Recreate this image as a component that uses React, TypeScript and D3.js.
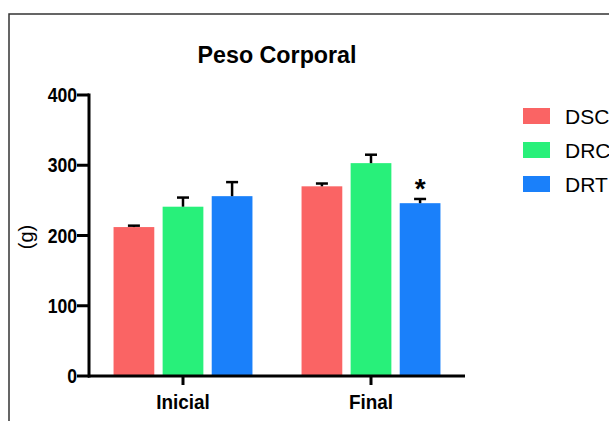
import React from "react";
import * as d3 from "d3";

const groups = ["Inicial", "Final"];
const series = ["DSC", "DRC", "DRT"];
const colors = ["#fa6464", "#28f07a", "#1a80fa"];
const meanInicial = [212, 241, 256];
const errInicial = [2, 13, 20];
const meanFinal = [270, 303, 246];
const errFinal = [4, 12, 6];
const yTicks = [0, 100, 200, 300, 400];
const title = "Peso Corporal";
const yLabel = "(g)";

const means = [meanInicial, meanFinal];
const errs = [errInicial, errFinal];

export default function App() {
  const W = 609, H = 421;
  const y = d3.scaleLinear().domain([0, 400]).range([376, 95]);
  const x0 = d3.scaleBand().domain(groups).range([89, 465]).padding(0);
  const x1 = d3.scaleBand().domain(series).range([0, x0.bandwidth()]).paddingInner(0.17).paddingOuter(0.5);
  const font = "'Liberation Sans', Arial, sans-serif";
  return (
    <svg width={W} height={H} style={{ position: "absolute", left: 0, top: 0, background: "#fff" }} fontFamily={font}>
      <rect x={0} y={0} width={W} height={H} fill="#fff" />
      <path d={`M9,${H + 5} L9,14 L${W + 5},14`} fill="none" stroke="#333" strokeWidth={1.5} />
      <text transform="translate(277,63) scale(0.97,1)" textAnchor="middle" fontSize={24} fontWeight="bold">{title}</text>
      {groups.map((g, gi) =>
        series.map((s, si) => {
          const v = means[gi][si];
          const e = errs[gi][si];
          const bx = (x0(g) as number) + (x1(s) as number);
          const bw = x1.bandwidth();
          const cx = bx + bw / 2;
          return (
            <g key={g + s}>
              <rect x={bx} y={y(v)} width={bw} height={y(0) - y(v)} fill={colors[si]} />
              <line x1={cx} x2={cx} y1={y(v)} y2={y(v + e)} stroke="#000" strokeWidth={2.5} />
              <line x1={cx - 6} x2={cx + 6} y1={y(v + e)} y2={y(v + e)} stroke="#000" strokeWidth={2.5} />
            </g>
          );
        })
      )}
      {(() => {
        const bx = (x0("Final") as number) + (x1("DRT") as number) + x1.bandwidth() / 2;
        return <text x={bx} y={y(meanFinal[2] + errFinal[2]) - 1} textAnchor="middle" fontSize={28} fontWeight="bold">*</text>;
      })()}
      {/* y axis */}
      <line x1={89} x2={89} y1={y(400) - 1.5} y2={y(0) + 1.5} stroke="#000" strokeWidth={3} />
      {yTicks.map((t) => (
        <g key={t}>
          <line x1={77} x2={89} y1={y(t)} y2={y(t)} stroke="#000" strokeWidth={3} />
          <text transform={`translate(77,${y(t) + 7}) scale(0.88,1)`} textAnchor="end" fontSize={20} fontWeight="bold">{t}</text>
        </g>
      ))}
      {/* x axis */}
      <line x1={88} x2={465} y1={y(0)} y2={y(0)} stroke="#000" strokeWidth={3} />
      {groups.map((g) => {
        const cx = (x0(g) as number) + x0.bandwidth() / 2;
        return (
          <g key={g}>
            <line x1={cx} x2={cx} y1={y(0)} y2={y(0) + 9} stroke="#000" strokeWidth={3} />
            <text transform={`translate(${cx},409) scale(0.9,1)`} textAnchor="middle" fontSize={21} fontWeight="bold">{g}</text>
          </g>
        );
      })}
      <text transform={`translate(33,237) rotate(-90)`} textAnchor="middle" fontSize={20}>{yLabel}</text>
      {/* legend */}
      {series.map((s, i) => (
        <g key={s}>
          <rect x={523} y={108 + i * 34} width={27} height={16} fill={colors[i]} />
          <text x={565} y={123.5 + i * 34} fontSize={21}>{s}</text>
        </g>
      ))}
    </svg>
  );
}
